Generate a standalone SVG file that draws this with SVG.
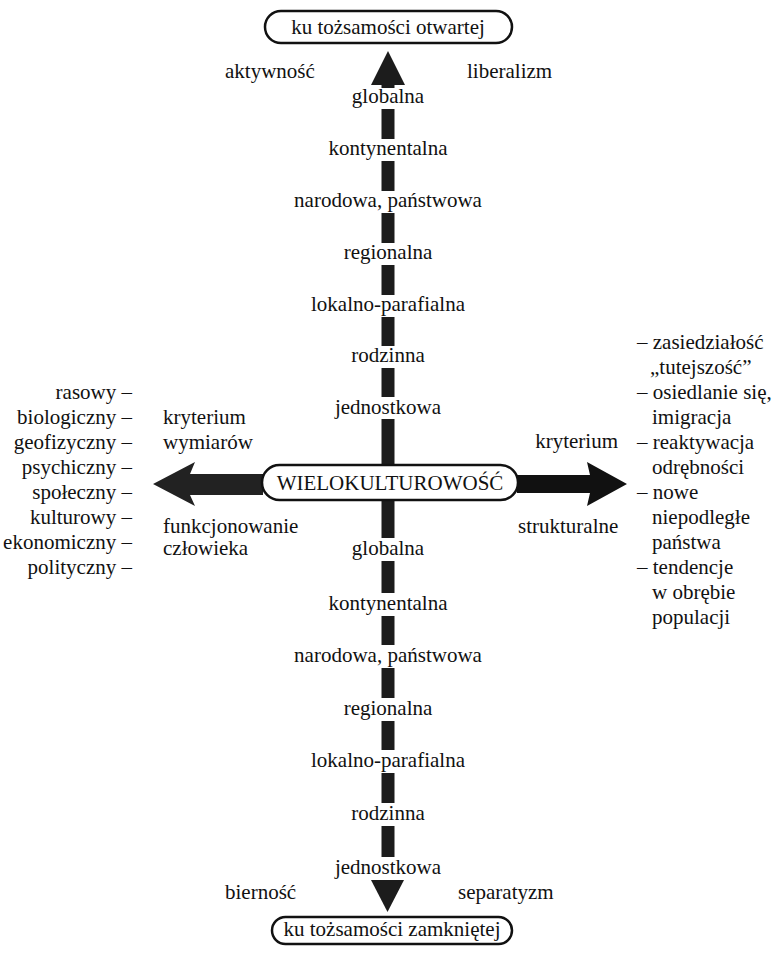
<svg xmlns="http://www.w3.org/2000/svg" width="781" height="953" viewBox="0 0 781 953" font-family="Liberation Serif, DejaVu Serif, serif">
<style>
text{font-family:'Liberation Serif','DejaVu Serif',serif;font-size:21px;fill:#111}
.c{text-anchor:middle}
.e{text-anchor:end}
.box{fill:#fff;stroke:#111;stroke-width:2.5}
.shaft{fill:#1c1c1c}
.harrow{fill:#222}
</style>
<rect width="781" height="953" fill="#fff"/>
<g id="connectors">
  <polygon class="shaft" points="388,51 405,85 371,85"/>
  <rect class="shaft" x="381.5" y="84" width="13" height="4"/>
  <rect class="shaft" x="381.5" y="109" width="13" height="30"/>
  <rect class="shaft" x="381.5" y="161" width="13" height="30"/>
  <rect class="shaft" x="381.5" y="213" width="13" height="30"/>
  <rect class="shaft" x="381.5" y="265" width="13" height="30"/>
  <rect class="shaft" x="381.5" y="317" width="13" height="29"/>
  <rect class="shaft" x="381.5" y="368" width="13" height="29"/>
  <rect class="shaft" x="381.5" y="419" width="13" height="47"/>
  <rect class="shaft" x="381.5" y="499" width="13" height="39"/>
  <rect class="shaft" x="381.5" y="561" width="13" height="32"/>
  <rect class="shaft" x="381.5" y="616" width="13" height="29"/>
  <rect class="shaft" x="381.5" y="668" width="13" height="30"/>
  <rect class="shaft" x="381.5" y="721" width="13" height="29"/>
  <rect class="shaft" x="381.5" y="773" width="13" height="30"/>
  <rect class="shaft" x="381.5" y="826" width="13" height="31"/>
  <polygon class="shaft" points="371,880 404,880 387.5,912"/>
  <polygon class="harrow" points="153,484 195,462 190,474 263,474 263,495 190,495 195,506"/>
  <polygon fill="#111" points="517,475 590,475 587,462 627,484 587,506 590,493 517,493"/>
</g>
<g id="top">
  <rect class="box" x="265" y="11" width="247" height="32" rx="16"/>
  <text class="c" x="388" y="34">ku tożsamości otwartej</text>
</g>
<g id="bottom">
  <rect class="box" x="272" y="917" width="240" height="27" rx="13.5"/>
  <text class="c" x="392" y="936">ku tożsamości zamkniętej</text>
</g>
<g id="center">
  <rect class="box" x="262" y="465" width="256" height="35" rx="17.5"/>
  <text class="c" x="390" y="490">WIELOKULTUROWOŚĆ</text>
</g>
<g id="upper-labels">
  <text x="225" y="78">aktywność</text>
  <text x="467" y="78">liberalizm</text>
  <text class="c" x="388" y="103">globalna</text>
  <text class="c" x="388" y="155">kontynentalna</text>
  <text class="c" x="388" y="207">narodowa, państwowa</text>
  <text class="c" x="388" y="259">regionalna</text>
  <text class="c" x="388" y="311">lokalno-parafialna</text>
  <text class="c" x="388" y="362">rodzinna</text>
  <text class="c" x="388" y="414">jednostkowa</text>
</g>
<g id="lower-labels">
  <text class="c" x="388" y="555">globalna</text>
  <text class="c" x="388" y="610">kontynentalna</text>
  <text class="c" x="388" y="662">narodowa, państwowa</text>
  <text class="c" x="388" y="715">regionalna</text>
  <text class="c" x="388" y="767">lokalno-parafialna</text>
  <text class="c" x="388" y="820">rodzinna</text>
  <text class="c" x="388" y="874">jednostkowa</text>
  <text x="225" y="899">bierność</text>
  <text x="458" y="899">separatyzm</text>
</g>
<g id="left-labels">
  <text x="163" y="424">kryterium</text>
  <text x="163" y="449">wymiarów</text>
  <text x="163" y="533">funkcjonowanie</text>
  <text x="163" y="555">człowieka</text>
</g>
<g id="left-list">
  <text class="e" x="132" y="399">rasowy –</text>
  <text class="e" x="132" y="424">biologiczny –</text>
  <text class="e" x="132" y="449">geofizyczny –</text>
  <text class="e" x="132" y="474">psychiczny –</text>
  <text class="e" x="132" y="499">społeczny –</text>
  <text class="e" x="132" y="524">kulturowy –</text>
  <text class="e" x="132" y="549">ekonomiczny –</text>
  <text class="e" x="132" y="574">polityczny –</text>
</g>
<g id="right-labels">
  <text class="e" x="618" y="448">kryterium</text>
  <text x="518" y="533">strukturalne</text>
</g>
<g id="right-list">
  <text x="637" y="349">– zasiedziałość</text>
  <text x="650" y="374">„tutejszość”</text>
  <text x="637" y="399">– osiedlanie się,</text>
  <text x="652" y="424">imigracja</text>
  <text x="637" y="449">– reaktywacja</text>
  <text x="652" y="474">odrębności</text>
  <text x="637" y="499">– nowe</text>
  <text x="652" y="524">niepodległe</text>
  <text x="652" y="549">państwa</text>
  <text x="637" y="574">– tendencje</text>
  <text x="652" y="599">w obrębie</text>
  <text x="652" y="624">populacji</text>
</g>
</svg>
